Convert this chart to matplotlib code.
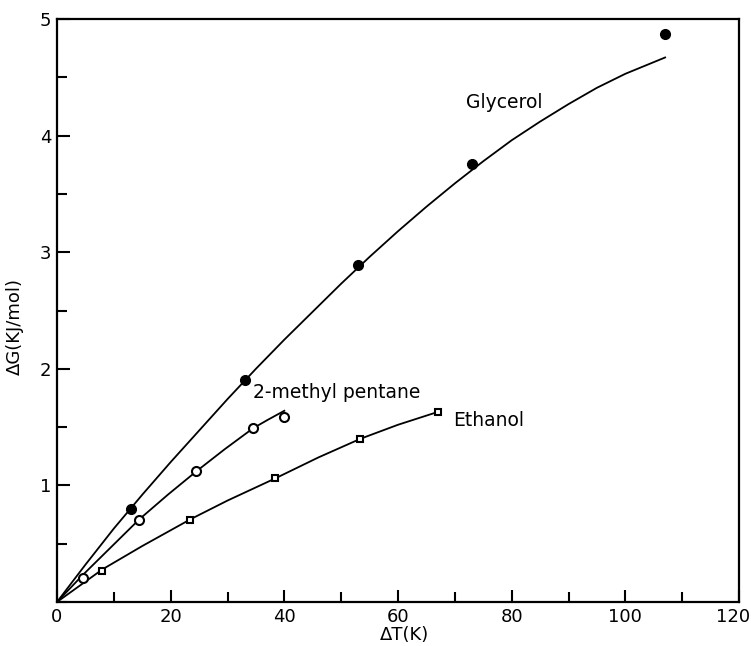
import matplotlib
matplotlib.use("Agg")
import matplotlib.pyplot as plt
import matplotlib.transforms as mtransforms
from matplotlib.ticker import MultipleLocator

# Data points
gly_x = [13, 33, 53, 73, 107]
gly_y = [0.80, 1.90, 2.89, 3.76, 4.87]
mp_x = [4.5, 14.5, 24.4, 34.4, 39.9]
mp_y = [0.21, 0.70, 1.12, 1.49, 1.59]
eth_x = [8.0, 23.4, 38.4, 53.4, 67.1]
eth_y = [0.27, 0.70, 1.06, 1.40, 1.63]

# Fitted curves as drawn in the chart
gly_cx = [0, 5, 10, 15, 20, 25, 30, 35, 40, 45, 50, 55, 60, 65, 70, 75, 80, 85, 90, 95, 100, 107]
gly_cy = [0, 0.32, 0.63, 0.92, 1.20, 1.47, 1.74, 2.00, 2.25, 2.49, 2.73, 2.96, 3.18, 3.39,
          3.59, 3.78, 3.96, 4.12, 4.27, 4.41, 4.53, 4.67]
mp_cx = [0, 4.5, 9.5, 14.5, 19.5, 24.5, 29.5, 34.5, 37, 40]
mp_cy = [0, 0.23, 0.47, 0.71, 0.92, 1.12, 1.31, 1.49, 1.56, 1.64]
eth_cx = [0, 8, 15, 23.5, 30, 38.4, 46, 53.4, 60, 67]
eth_cy = [0, 0.28, 0.48, 0.71, 0.87, 1.06, 1.24, 1.40, 1.52, 1.63]

xticks = [0, 20, 40, 60, 80, 100, 120]
yticks = [1, 2, 3, 4, 5]

plt.rcParams['font.family'] = ['DejaVu Sans']
fig = plt.figure(figsize=(7.51, 6.46), dpi=100)
ax = fig.add_axes([57/751, 44/646, 682/751, 583/646])

lw = 1.3
ax.plot(gly_cx, gly_cy, color='black', lw=lw)
ax.plot(mp_cx, mp_cy, color='black', lw=lw)
ax.plot(eth_cx, eth_cy, color='black', lw=lw)
ax.plot(gly_x, gly_y, 'o', color='black', ms=7)
ax.plot(mp_x, mp_y, 'o', mfc='white', mec='black', mew=1.5, ms=6.5)
ax.plot(eth_x, eth_y, 's', mfc='white', mec='black', mew=1.5, ms=5)

ax.set_xlim(0, 120)
ax.set_ylim(0, 5)
ax.xaxis.set_minor_locator(MultipleLocator(10))
ax.yaxis.set_minor_locator(MultipleLocator(0.5))
ax.set_xticks(xticks)
ax.set_yticks(yticks)
ax.tick_params(axis='both', which='major', direction='in', length=9, width=1.5,
               labelsize=13, pad=4)
ax.tick_params(axis='both', which='minor', direction='in', length=7, width=1.5)
ax.tick_params(axis='x', pad=4)
for s in ax.spines.values():
    s.set_linewidth(1.6)

# keep the last x tick label inside the figure
fig.canvas.draw()
lbl = ax.get_xticklabels()[-1]
lbl.set_transform(lbl.get_transform() + mtransforms.ScaledTranslation(-6/100, 0, fig.dpi_scale_trans))

ax.text(72.0, 4.28, 'Glycerol', fontsize=13.5, va='center', ha='left')
ax.text(34.5, 1.80, '2-methyl pentane', fontsize=13.5, va='center', ha='left')
ax.text(69.7, 1.56, 'Ethanol', fontsize=13.5, va='center', ha='left')

ax.set_xlabel('ΔT(K)', fontsize=13)
ax.xaxis.label.set_va('center')
ax.xaxis.set_label_coords(0.509, -0.057)
ax.set_ylabel('ΔG(KJ/mol)', fontsize=13)
ax.yaxis.label.set_va('center')
ax.yaxis.set_label_coords(-0.062, 0.472)

fig.savefig('out.png', dpi=100)
